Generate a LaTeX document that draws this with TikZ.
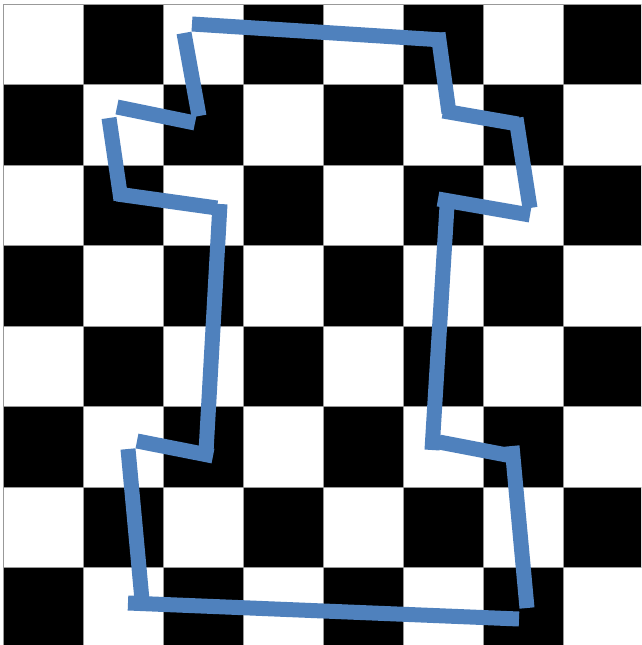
\documentclass[tikz,border=0pt]{standalone}
\definecolor{segblue}{HTML}{4F81BD}
\begin{document}
\begin{tikzpicture}[x=1pt,y=-1pt,
  seg/.style={draw=segblue, line width=15pt, line cap=butt},
  gridline/.style={draw=gray!80, line width=1pt}]
\useasboundingbox (0,0) rectangle (641,645);
\clip (0,0) rectangle (641,645);
\fill[white] (0,0) rectangle (641,645);
\foreach \i in {0,...,7} {
  \foreach \j in {0,...,7} {
    \pgfmathtruncatemacro{\myparity}{mod(\i+\j,2)}
    \ifnum\myparity=1
      \fill[black] ({3+80*\i},{4+80.57*\j}) rectangle ({83+80*\i},{84.57+80.57*\j});
    \fi
  }
}
\foreach \i in {0,...,7} {
  \draw[gridline] ({3+80*\i},4) -- ({3+80*\i},650);
}
\foreach \i in {0,...,8} {
  \draw[gridline] (3,{4+80.57*\i}) -- (650,{4+80.57*\i});
}
% segment end points
\coordinate (a1) at (192,24);  \coordinate (b1) at (443,40);
\coordinate (a2) at (438,33);  \coordinate (b2) at (449,113);
\coordinate (a3) at (443,111); \coordinate (b3) at (518,124);
\coordinate (a4) at (516,118); \coordinate (b4) at (530,208);
\coordinate (a5) at (438,199); \coordinate (b5) at (530,215);
\coordinate (a6) at (447,206); \coordinate (b6) at (432,450);
\coordinate (a7) at (439,442); \coordinate (b7) at (512,456);
\coordinate (a8) at (512,446); \coordinate (b8) at (527,608);
\coordinate (a9) at (128,603); \coordinate (b9) at (519,619);
\coordinate (a10) at (128,449); \coordinate (b10) at (142,600);
\coordinate (a11) at (137,441); \coordinate (b11) at (213,456);
\coordinate (a12) at (220,204); \coordinate (b12) at (206,452);
\coordinate (a13) at (117,194); \coordinate (b13) at (217,208);
\coordinate (a14) at (109,118); \coordinate (b14) at (121,200);
\coordinate (a15) at (117,107); \coordinate (b15) at (195,123);
\coordinate (a16) at (184,33);  \coordinate (b16) at (199,116);
\foreach \k in {1,...,16} { \draw[seg] (a\k) -- (b\k); }
\end{tikzpicture}
\end{document}
